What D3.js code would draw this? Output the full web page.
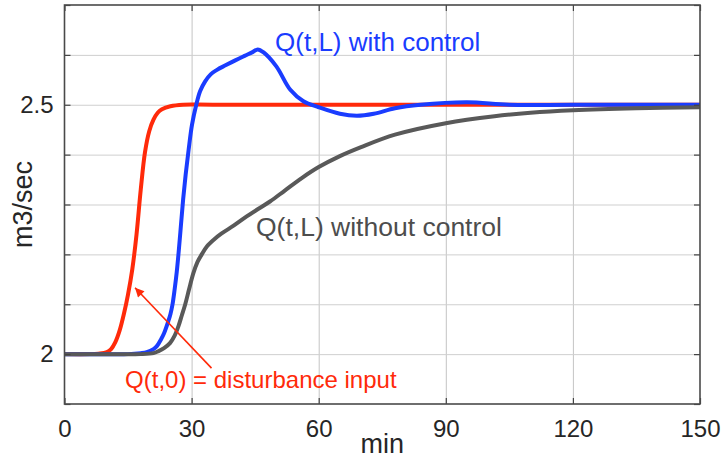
<!DOCTYPE html>
<html lang="en">
  <head>
    <meta charset="UTF-8" />
    <title>Q(t,L) with and without control</title>
    <script src="https://d3js.org/d3.v7.min.js"></script>
    <style>
      body {
        margin: 0;
        background: white;
        font-family: 'Liberation Sans', Arial, Helvetica, sans-serif;
      }
      svg {
        display: block;
      }
    </style>
  </head>
  <body>
    <svg width="722" height="462"></svg>

    <script>
      // disturbance input at the top of the reach, Q(t,0)
      const inputFlow = [
        [0, 2], [6, 2], [8, 2.001], [10, 2.004], [11, 2.01], [12, 2.024],
        [13, 2.047], [14, 2.08], [15, 2.12], [16, 2.17], [17, 2.24],
        [18, 2.33], [19, 2.405], [20, 2.447], [21, 2.47], [22, 2.484],
        [23, 2.491], [25, 2.497], [28, 2.5], [35, 2.5], [150, 2.5],
      ];

      // outflow Q(t,L) with control
      const withControl = [
        [0, 2], [12, 2], [15, 2], [18, 2.002], [19.4, 2.004], [21, 2.01],
        [21.8, 2.016], [22.8, 2.03], [23.5, 2.042], [24.5, 2.066], [25, 2.08],
        [25.5, 2.1], [26, 2.13], [26.5, 2.165], [27, 2.21], [27.5, 2.26],
        [28, 2.31], [28.6, 2.36], [29.3, 2.41], [30.1, 2.46], [31.1, 2.5],
        [32, 2.527], [33.2, 2.547], [34.5, 2.561], [36, 2.57], [38, 2.579],
        [40.3, 2.589], [42.5, 2.598], [44.5, 2.606], [45.6, 2.611], [47, 2.605],
        [50, 2.577], [53.3, 2.53], [56.4, 2.507], [60, 2.495], [65, 2.482],
        [69, 2.478], [73, 2.482], [78, 2.493], [84, 2.5], [95, 2.505],
        [105, 2.5], [120, 2.5], [150, 2.5],
      ];

      // outflow Q(t,L) without control
      const withoutControl = [
        [0, 2], [14, 2], [18, 2], [21, 2.002], [22.2, 2.006], [23.5, 2.012],
        [24.9, 2.022], [26, 2.037], [26.9, 2.056], [27.7, 2.078], [28.5, 2.1],
        [29.4, 2.13], [30.4, 2.162], [31.4, 2.185], [32.4, 2.2], [33.6, 2.216],
        [35.3, 2.23], [37.1, 2.242], [40, 2.258], [43, 2.276], [45.5, 2.29],
        [48.5, 2.306], [52, 2.328], [56, 2.353], [60, 2.375], [65, 2.397],
        [70, 2.415], [78, 2.44], [90, 2.463], [101.5, 2.477], [110, 2.484],
        [120, 2.489], [135, 2.493], [150, 2.495],
      ];

      const xTicks = [0, 30, 60, 90, 120, 150];
      const yGrid = [1.9, 2, 2.1, 2.2, 2.3, 2.4, 2.5, 2.6, 2.7];
      const yLabels = [2, 2.5];

      // curve labels: [t, Q, text]
      const labels = [
        [49.7, 2.607, 'Q(t,L) with control'],
        [45.2, 2.237, 'Q(t,L) without control'],
        [14.3, 1.932, 'Q(t,0) = disturbance input'],
      ];
      // arrow from the red label to the input curve: [t, Q]
      const arrowFrom = [34.7, 1.972];
      const arrowTo = [16.65, 2.133];

      const margin = { top: 5, right: 22, bottom: 58, left: 64.5 },
        width = 722 - margin.left - margin.right,
        height = 462 - margin.top - margin.bottom;

      const colors = ['#4a4a4a', '#1a3cff', '#ff2a0a', '#595959'];
      const labelColors = ['#1a3cff', '#4d4d4d', '#ff2a0a'];
      const labelSizes = [26, 26.5, 24];

      const svg = d3
        .select('svg')
        .append('g')
        .attr('transform', `translate(${margin.left},${margin.top})`);

      const x = d3.scaleLinear().domain([0, 150]).range([0, width]);
      const y = d3.scaleLinear().domain([1.9, 2.7]).range([height, 0]);

      // grid
      svg
        .append('g')
        .call(d3.axisBottom(x).tickValues(xTicks.slice(1, -1)).tickSize(height).tickFormat(''))
        .call((g) => g.select('.domain').remove())
        .call((g) => g.selectAll('line').attr('stroke', '#c4c4c4').attr('stroke-width', 1));
      svg
        .append('g')
        .call(d3.axisLeft(y).tickValues(yGrid.slice(1, -1)).tickSize(-width).tickFormat(''))
        .call((g) => g.select('.domain').remove())
        .call((g) => g.selectAll('line').attr('stroke', '#cfcfcf').attr('stroke-width', 1));

      const line = d3
        .line()
        .x((d) => x(d[0]))
        .y((d) => y(d[1]))
        .curve(d3.curveCatmullRom.alpha(0.5));

      [
        [inputFlow, colors[2]],
        [withControl, colors[1]],
        [withoutControl, colors[3]],
      ].forEach(([data, c]) => {
        svg
          .append('path')
          .datum(data)
          .attr('fill', 'none')
          .attr('stroke', c)
          .attr('stroke-width', 4)
          .attr('stroke-linejoin', 'round')
          .attr('d', line);
      });

      // axes with inward ticks on all four sides
      const tickStyle = (g) => {
        g.select('.domain').remove();
        g.selectAll('line').attr('stroke', '#444').attr('stroke-width', 1.2);
        g.selectAll('text')
          .attr('fill', '#262626')
          .style('font-size', '24px')
          .style('font-family', "'Liberation Sans', Arial, sans-serif");
      };

      svg
        .append('g')
        .attr('transform', `translate(0,${height})`)
        .call(d3.axisBottom(x).tickValues(xTicks).tickSizeInner(-6).tickPadding(16))
        .call(tickStyle);
      svg
        .append('g')
        .call(d3.axisTop(x).tickValues(xTicks).tickSizeInner(-6).tickFormat(''))
        .call(tickStyle);
      svg
        .append('g')
        .call(
          d3
            .axisLeft(y)
            .tickValues(yGrid)
            .tickSizeInner(-6)
            .tickPadding(11)
            .tickFormat((d) => (yLabels.includes(d) ? d3.format('')(d) : '')),
        )
        .call(tickStyle);
      svg
        .append('g')
        .attr('transform', `translate(${width},0)`)
        .call(d3.axisRight(y).tickValues(yGrid).tickSizeInner(-6).tickFormat(''))
        .call(tickStyle);

      svg
        .append('rect')
        .attr('width', width)
        .attr('height', height)
        .attr('fill', 'none')
        .attr('stroke', colors[0])
        .attr('stroke-width', 1.6);

      // curve labels
      svg
        .selectAll('text.curve-label')
        .data(labels)
        .join('text')
        .attr('class', 'curve-label')
        .attr('x', (d) => x(d[0]))
        .attr('y', (d) => y(d[1]))
        .attr('fill', (d, i) => labelColors[i])
        .style('font-size', (d, i) => labelSizes[i] + 'px')
        .text((d) => d[2]);

      // arrow
      svg
        .append('defs')
        .append('marker')
        .attr('id', 'head')
        .attr('viewBox', '0 0 10 10')
        .attr('refX', 10)
        .attr('refY', 5)
        .attr('markerWidth', 12)
        .attr('markerHeight', 9)
        .attr('markerUnits', 'userSpaceOnUse')
        .attr('orient', 'auto')
        .append('path')
        .attr('d', 'M0,0L10,5L0,10z')
        .attr('fill', colors[2]);

      svg
        .append('line')
        .attr('x1', x(arrowFrom[0]))
        .attr('y1', y(arrowFrom[1]))
        .attr('x2', x(arrowTo[0]))
        .attr('y2', y(arrowTo[1]))
        .attr('stroke', colors[2])
        .attr('stroke-width', 1.6)
        .attr('marker-end', 'url(#head)');

      // axis titles
      svg
        .append('text')
        .attr('x', width / 2)
        .attr('y', height + 49)
        .attr('text-anchor', 'middle')
        .attr('fill', '#262626')
        .style('font-size', '27px')
        .text('min');

      svg
        .append('text')
        .attr('transform', 'rotate(-90)')
        .attr('x', -height / 2)
        .attr('y', -33)
        .attr('text-anchor', 'middle')
        .attr('fill', '#262626')
        .style('font-size', '27px')
        .text('m3/sec');
    </script>
  </body>
</html>
